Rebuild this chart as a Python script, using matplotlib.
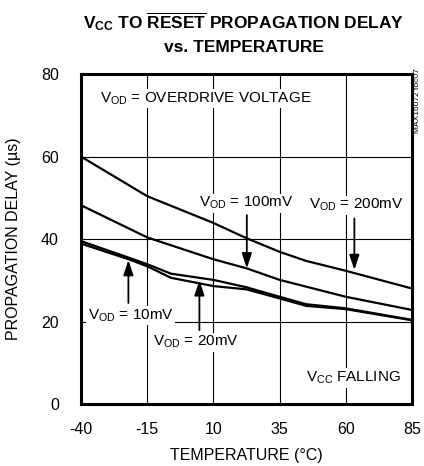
import matplotlib

matplotlib.use("Agg")

import matplotlib.pyplot as plt

plt.rcParams["font.family"] = ["Liberation Sans", "DejaVu Sans"]
plt.rcParams["mathtext.fontset"] = "custom"
plt.rcParams["mathtext.rm"] = "Liberation Sans"
plt.rcParams["mathtext.it"] = "Liberation Sans"
plt.rcParams["mathtext.bf"] = "Liberation Sans:bold"
plt.rcParams["axes.unicode_minus"] = False

# curve data (temperature in degC, delay in us)
temp_200 = [-40, -15, 10, 22.5, 35, 45, 60, 85]
delay_200 = [60.0, 50.4, 43.9, 40.2, 36.9, 34.7, 32.3, 28.0]

temp_100 = [-40, -15, 10, 22.5, 35, 60, 85]
delay_100 = [48.2, 40.4, 35.1, 32.9, 30.1, 26.0, 22.8]

temp_20 = [-40, -22, -15, -6, 10, 22.5, 35, 45, 60, 85]
delay_20 = [39.5, 35.5, 33.9, 31.6, 30.1, 28.3, 26.0, 24.2, 23.2, 20.4]

temp_10 = [-40, -22, -15, -6, 10, 22.5, 35, 45, 60, 85]
delay_10 = [38.9, 35.1, 33.4, 30.6, 28.6, 27.8, 25.6, 23.8, 23.0, 20.3]

x_ticks = [-40, -15, 10, 35, 60, 85]
y_ticks = [0, 20, 40, 60, 80]

fig = plt.figure(figsize=(4.24, 4.66), dpi=100)
ax = fig.add_axes([0.191, 0.133, 0.781, 0.708])

for t, d in [(temp_200, delay_200), (temp_100, delay_100), (temp_20, delay_20), (temp_10, delay_10)]:
    ax.plot(t, d, color="black", lw=1.6, zorder=3)

ax.set_xlim(-40, 85)
ax.set_ylim(0, 80)
ax.set_xticks(x_ticks)
ax.set_yticks(y_ticks)
ax.tick_params(axis="x", length=0, labelsize=11.5, pad=13)
ax.tick_params(axis="y", length=0, labelsize=11.5, pad=16)
ax.grid(True, color="black", lw=0.8)
for s in ax.spines.values():
    s.set_linewidth(2.2)

ax.set_xlabel("TEMPERATURE (°C)", fontsize=11.5, labelpad=8)
ax.set_ylabel("PROPAGATION DELAY (µs)", fontsize=11.5, labelpad=14)

box = dict(facecolor="white", edgecolor="none", pad=1.0)
fs = 11
ax.text(-33, 74, r"V$_{\mathrm{OD}}$ = OVERDRIVE VOLTAGE", fontsize=fs, va="center", bbox=box, zorder=4)
ax.text(4.5, 48.7, r"V$_{\mathrm{OD}}$ = 100mV", fontsize=fs, va="center", bbox=box, zorder=4)
ax.text(46, 48.2, r"V$_{\mathrm{OD}}$ = 200mV", fontsize=fs, va="center", bbox=box, zorder=4)
ax.text(-37.5, 21.5, r"V$_{\mathrm{OD}}$ = 10mV", fontsize=fs, va="center", bbox=box, zorder=4)
ax.text(-13, 15.0, r"V$_{\mathrm{OD}}$ = 20mV", fontsize=fs, va="center", bbox=box, zorder=4)
ax.text(80.5, 6.3, r"V$_{\mathrm{CC}}$ FALLING", fontsize=fs, va="center", ha="right", bbox=box, zorder=4)

arrow = dict(arrowstyle="-|>,head_length=0.9,head_width=0.3", color="black", lw=1.3, shrinkA=0, shrinkB=0)
ax.annotate("", xy=(22.6, 32.9), xytext=(22.6, 45.8), arrowprops=arrow, zorder=5)
ax.annotate("", xy=(63.2, 32.5), xytext=(63.2, 45.0), arrowprops=arrow, zorder=5)
ax.annotate("", xy=(-22.1, 34.9), xytext=(-22.1, 24.5), arrowprops=arrow, zorder=5)
ax.annotate("", xy=(4.7, 30.0), xytext=(4.7, 17.9), arrowprops=arrow, zorder=5)

fig.text(0.575, 0.953, r"V$_{\mathbf{CC}}$ TO $\overline{\mathbf{RESET}}$ PROPAGATION DELAY",
         fontsize=12.5, fontweight="bold", ha="center", va="center")
fig.text(0.575, 0.899, "vs. TEMPERATURE", fontsize=12.5, fontweight="bold", ha="center", va="center")
fig.text(0.984, 0.854, "MAX16072 toc07", fontsize=6, rotation=90, ha="center", va="top")

fig.savefig("out.png", dpi=100)
